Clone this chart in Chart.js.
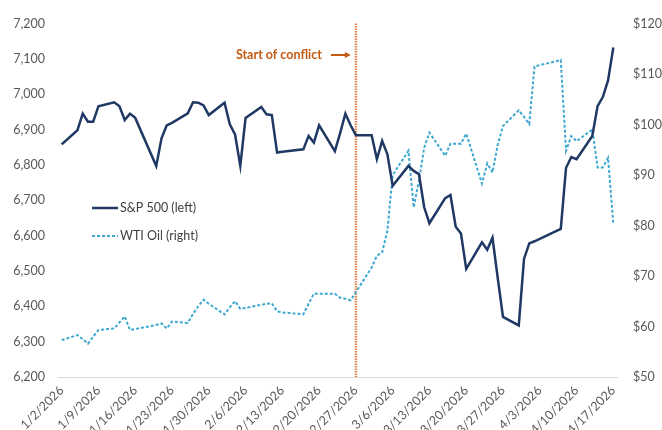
<!DOCTYPE html>
<html>
<head>
<meta charset="utf-8">
<script src="https://cdn.jsdelivr.net/npm/chart.js@4/dist/chart.umd.min.js"></script>
<style>
  body { margin: 0; background: #fff; }
  #wrap { width: 662px; height: 430px; position: relative; }
</style>
</head>
<body>
<div id="wrap"><canvas id="myChart"></canvas></div>
<script>
// trading days (2026)
let dates = ['1/2', '1/5', '1/6', '1/7', '1/8', '1/9', '1/12', '1/13', '1/14', '1/15', '1/16',
	'1/20', '1/21', '1/22', '1/23', '1/26', '1/27', '1/28', '1/29', '1/30',
	'2/2', '2/3', '2/4', '2/5', '2/6', '2/9', '2/10', '2/11', '2/12', '2/13',
	'2/17', '2/18', '2/19', '2/20', '2/23', '2/24', '2/25', '2/26', '2/27',
	'3/2', '3/3', '3/4', '3/5', '3/6', '3/9', '3/10', '3/11', '3/12', '3/13',
	'3/16', '3/17', '3/18', '3/19', '3/20', '3/23', '3/24', '3/25', '3/26', '3/27',
	'3/30', '3/31', '4/1', '4/2', '4/6', '4/7', '4/8', '4/9', '4/10',
	'4/13', '4/14', '4/15', '4/16', '4/17'];

// S&P 500 close (left axis)
let sp500 = [6858, 6898, 6945, 6922, 6922, 6966, 6977, 6966, 6927, 6945, 6933,
	6797, 6875, 6912, 6919, 6946, 6977, 6976, 6968, 6941,
	6976, 6915, 6886, 6797, 6933, 6964, 6943, 6941, 6835, 6837,
	6844, 6882, 6863, 6912, 6839, 6890, 6945, 6912, 6884,
	6884, 6816, 6868, 6830, 6741, 6797, 6783, 6774, 6680, 6635,
	6706, 6715, 6625, 6606, 6506, 6581, 6560, 6594, 6480, 6370,
	6346, 6534, 6578, 6584, 6612, 6619, 6792, 6822, 6816,
	6882, 6966, 6992, 7039, 7132];

// WTI oil, $ (right axis)
let wti = [57.3, 58.3, 57.5, 56.6, 58.0, 59.3, 59.6, 60.8, 62.0, 59.3, 59.5,
	60.3, 60.6, 59.6, 61.0, 60.7, 62.5, 64.0, 65.3, 64.5,
	62.4, 63.8, 65.0, 63.5, 63.7, 64.3, 64.5, 64.6, 63.0, 62.8,
	62.4, 64.5, 66.5, 66.5, 66.5, 65.7, 65.5, 65.2, 66.8,
	71.7, 74.0, 74.7, 79.0, 90.0, 94.8, 83.6, 88.8, 95.4, 98.4,
	93.8, 96.2, 96.2, 96.2, 98.2, 88.3, 92.3, 90.5, 96.0, 99.7,
	102.8, 101.5, 100.1, 111.5, 112.5, 112.8, 94.8, 97.7, 96.7,
	99.0, 91.5, 91.5, 93.4, 80.3];

let tickLabels = ['1/2/2026', '1/9/2026', '1/16/2026', '1/23/2026', '1/30/2026', '2/6/2026',
	'2/13/2026', '2/20/2026', '2/27/2026', '3/6/2026', '3/13/2026', '3/20/2026',
	'3/27/2026', '4/3/2026', '4/10/2026', '4/17/2026'];

let conflictDate = '2/27';

// days since 1/2/2026
function dayNum(s) {
	let [m, d] = s.split('/').map(Number);
	return Math.round((Date.UTC(2026, m - 1, d) - Date.UTC(2026, 0, 2)) / 86400000);
}

let spPoints = dates.map((d, i) => ({ x: dayNum(d), y: sp500[i] }));
let wtiPoints = dates.map((d, i) => ({ x: dayNum(d), y: wti[i] }));
let tickDays = tickLabels.map((t) => dayNum(t.slice(0, t.lastIndexOf('/'))));

const navy = '#1f3864';
const lightBlue = '#3fa8d0';
const orange = '#c55a11';

// legend + conflict marker
let extras = {
	id: 'extras',
	beforeDatasetsDraw(chart) {
		let c = chart.ctx;
		let area = chart.chartArea;
		let x = chart.scales.x.getPixelForValue(dayNum(conflictDate));
		c.save();
		c.strokeStyle = '#e4854a';
		c.lineWidth = 2.5;
		c.setLineDash([1.5, 1]);
		c.beginPath();
		c.moveTo(x, area.top);
		c.lineTo(x, area.bottom);
		c.stroke();
		c.restore();
	},
	afterDatasetsDraw(chart) {
		let c = chart.ctx;
		let x = chart.scales.x.getPixelForValue(dayNum(conflictDate));
		c.save();
		// annotation
		c.fillStyle = orange;
		c.font = 'bold 12.5px Lato';
		c.textAlign = 'right';
		c.textBaseline = 'middle';
		c.fillText('Start of conflict', x - 34, 55);
		c.strokeStyle = orange;
		c.lineWidth = 2;
		c.beginPath();
		c.moveTo(x - 25, 55);
		c.lineTo(x - 10, 55);
		c.stroke();
		c.beginPath();
		c.moveTo(x - 5, 55);
		c.lineTo(x - 11, 52);
		c.lineTo(x - 11, 58);
		c.closePath();
		c.fill();

		// legend
		let rows = [
			{ text: 'S&P 500 (left)', color: navy, width: 2.5, dash: [], y: 208 },
			{ text: 'WTI Oil (right)', color: lightBlue, width: 2, dash: [3, 2], y: 236 },
		];
		c.textAlign = 'left';
		c.font = '12.5px Lato';
		rows.forEach((r) => {
			c.strokeStyle = r.color;
			c.lineWidth = r.width;
			c.setLineDash(r.dash);
			c.beginPath();
			c.moveTo(92, r.y);
			c.lineTo(118, r.y);
			c.stroke();
			c.setLineDash([]);
			c.fillStyle = '#404040';
			c.fillText(r.text, 120, r.y);
		});
		c.restore();
	},
};

let ctx = document.getElementById('myChart').getContext('2d');
new Chart(ctx, {
	type: 'line',
	data: {
		datasets: [
			{
				label: 'S&P 500 (left)',
				data: spPoints,
				yAxisID: 'yL',
				borderColor: navy,
				borderWidth: 2.5,
				pointRadius: 0,
				tension: 0,
			},
			{
				label: 'WTI Oil (right)',
				data: wtiPoints,
				yAxisID: 'yR',
				borderColor: lightBlue,
				borderWidth: 2,
				borderDash: [3, 2],
				pointRadius: 0,
				tension: 0,
			},
		],
	},
	options: {
		responsive: true,
		maintainAspectRatio: false,
		animation: false,
		layout: { padding: { top: 22, left: 0, right: 0, bottom: 0 } },
		plugins: { legend: { display: false }, tooltip: { enabled: false } },
		scales: {
			x: {
				type: 'linear',
				min: -0.7,
				max: 105.7,
				afterBuildTicks: (s) => { s.ticks = tickDays.map((v) => ({ value: v })); },
				afterFit: (s) => { s.height = 53; },
				grid: { display: false, drawTicks: false, tickLength: 0 },
				border: { display: true, color: '#d9d9d9', width: 1 },
				ticks: {
					autoSkip: false,
					minRotation: 45,
					maxRotation: 45,
					padding: 6,
					color: '#595959',
					font: { family: 'Lato', size: 12.5 },
					callback: (v, i) => tickLabels[i],
				},
			},
			yL: {
				position: 'left',
				min: 6200,
				max: 7200,
				afterFit: (s) => { s.width = 58; },
				grid: { display: false, drawTicks: false, tickLength: 0 },
				border: { display: false },
				ticks: {
					stepSize: 100,
					padding: 13,
					color: '#595959',
					font: { family: 'Lato', size: 12.5 },
					callback: (v) => v.toLocaleString('en-US'),
				},
			},
			yR: {
				position: 'right',
				min: 50,
				max: 120,
				afterFit: (s) => { s.width = 45; },
				grid: { display: false, drawTicks: false, tickLength: 0 },
				border: { display: false },
				ticks: {
					stepSize: 10,
					padding: 16,
					color: '#595959',
					font: { family: 'Lato', size: 12.5 },
					callback: (v) => '$' + v,
				},
			},
		},
	},
	plugins: [extras],
});
</script>
</body>
</html>
